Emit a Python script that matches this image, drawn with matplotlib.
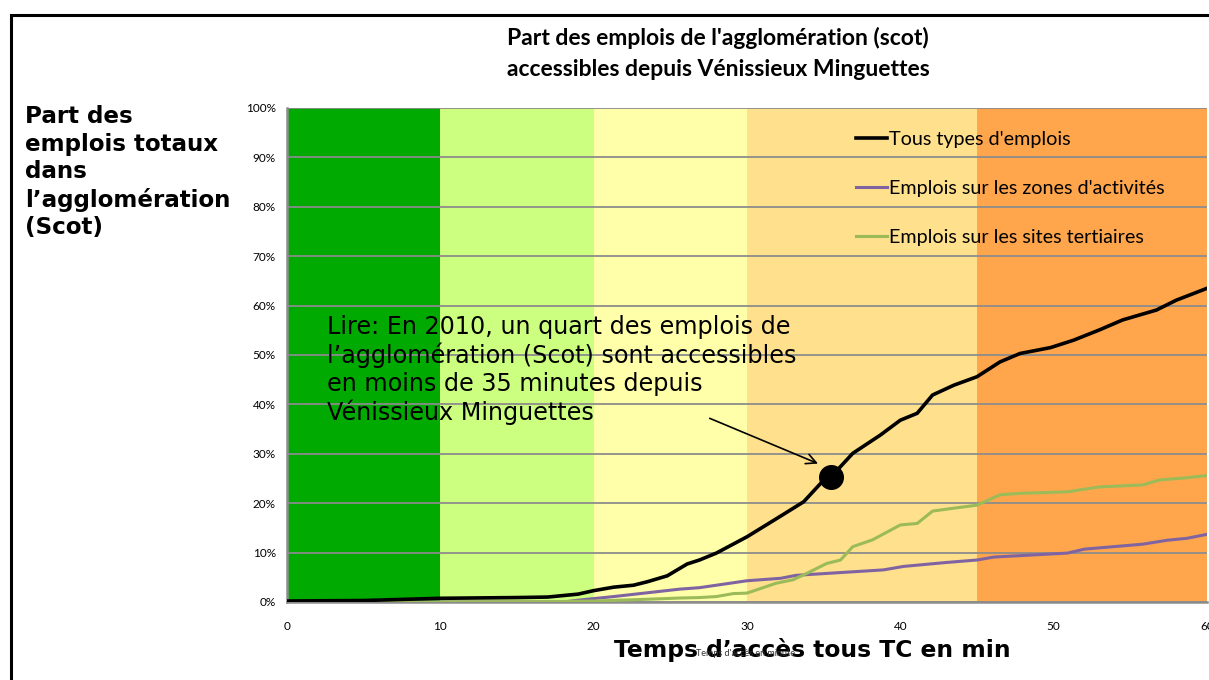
import matplotlib
matplotlib.use("Agg")
import matplotlib.pyplot as plt
from matplotlib.patches import Rectangle

# ---- data ----
t_tous = [0, 5, 10, 15, 17, 19, 20, 21.3, 22.6, 23.5, 24.8, 26.1, 26.9, 28, 30, 32.2, 33.7, 34.8,
          35.5, 36.9, 38.7, 40, 41.1, 42.1, 43.5, 45, 46.5, 47.8, 49.8, 51.3, 53, 54.5, 56.7, 58, 60]
v_tous = [0.2, 0.3, 0.75, 0.9, 1.0, 1.6, 2.3, 3.0, 3.4, 4.1, 5.3, 7.7, 8.5, 9.9, 13.2, 17.4, 20.3, 24.0,
          25.4, 30.1, 33.8, 36.8, 38.2, 41.9, 43.9, 45.6, 48.6, 50.3, 51.5, 53.0, 55.1, 57.1, 59.1, 61.1, 63.5]

t_zones = [0, 10, 18, 19.1, 21.3, 25.6, 26.9, 30, 32.2, 33.2, 38.9, 40.2, 43, 45, 46.1, 50.9, 52,
           55.8, 57.4, 58.7, 60]
v_zones = [0, 0, 0, 0.4, 1.1, 2.6, 2.9, 4.3, 4.8, 5.4, 6.5, 7.2, 8.0, 8.5, 9.1, 9.9, 10.7,
           11.7, 12.5, 12.9, 13.7]

t_tert = [0, 10, 17, 20, 23, 25.6, 26.9, 28, 29.1, 30, 31.9, 33, 33.9, 35.2, 36.1, 36.9, 38.2, 40,
          41.1, 42.1, 43.5, 45, 46.5, 47.8, 50.9, 53, 55.8, 56.9, 58.5, 60]
v_tert = [0, 0, 0.05, 0.2, 0.5, 0.8, 0.9, 1.1, 1.7, 1.8, 3.8, 4.5, 5.8, 7.8, 8.5, 11.2, 12.6, 15.6,
          15.9, 18.4, 19.0, 19.6, 21.7, 22.0, 22.3, 23.3, 23.7, 24.7, 25.1, 25.6]

band_edges = [0, 10, 20, 30, 45, 60]
band_colors = ["#00AA00", "#CCFF80", "#FFFFAA", "#FFE08C", "#FFA64D"]

x_ticks = [0, 10, 20, 30, 40, 50, 60]
y_ticks = [0, 10, 20, 30, 40, 50, 60, 70, 80, 90, 100]

labels = ["Tous types d'emplois", "Emplois sur les zones d'activités", "Emplois sur les sites tertiaires"]
colors = ["#000000", "#8064A2", "#9BBB59"]

point_t, point_v = 35.5, 25.4

# ---- figure ----
W, H = 1209, 680
fig = plt.figure(figsize=(W / 100, H / 100), dpi=100)
ax = fig.add_axes([287 / W, 1 - 602 / H, (1207 - 287) / W, (602 - 108) / H])

for i in range(len(band_colors)):
    ax.axvspan(band_edges[i], band_edges[i + 1], color=band_colors[i], lw=0, zorder=0)

ax.set_xlim(0, 60)
ax.set_ylim(0, 100)
ax.set_yticks(y_ticks)
ax.set_yticklabels([f"{v}%" for v in y_ticks])
ax.set_xticks(x_ticks)
ax.grid(axis="y", color="#8C8C8C", lw=1.3, zorder=1)
ax.tick_params(length=0, labelsize=8.5, pad=8)
for lab in ax.get_xticklabels() + ax.get_yticklabels():
    lab.set_family("Lato")
ax.tick_params(axis="x", pad=14)
for s in ["top", "right"]:
    ax.spines[s].set_visible(False)
for s in ["left", "bottom"]:
    ax.spines[s].set_color("#8C8C8C")
    ax.spines[s].set_linewidth(1.8)
    ax.spines[s].set_zorder(2)

l1, = ax.plot(t_zones, v_zones, color=colors[1], lw=2.2, zorder=3)
l2, = ax.plot(t_tert, v_tert, color=colors[2], lw=2.2, zorder=3)
l0, = ax.plot(t_tous, v_tous, color=colors[0], lw=2.6, zorder=4)
ax.plot([point_t], [point_v], "o", color="black", ms=17, zorder=5)

leg = ax.legend([l0, l1, l2], labels, loc="upper left", frameon=False,
                bbox_to_anchor=(856 / W, 1 - 131 / H), bbox_transform=fig.transFigure,
                prop={"family": "Lato", "size": 14.2}, handlelength=1.55, handletextpad=0.1,
                labelspacing=1.62, borderpad=0, borderaxespad=0)

# annotation
ax.annotate("", xy=(34.8, 27.8), xytext=(27.4, 37.4),
            arrowprops=dict(arrowstyle="->", color="black", lw=1.2, mutation_scale=18), zorder=6)
fig.text(327 / W, 1 - 315 / H,
         "Lire: En 2010, un quart des emplois de\nl\u2019agglomération (Scot) sont accessibles\n"
         "en moins de 35 minutes depuis\nVénissieux Minguettes",
         family="DejaVu Sans", fontsize=17.2, va="top", ha="left", linespacing=1.18)

# titles
fig.text(718 / W, 1 - 38 / H, "Part des emplois de l'agglomération (scot)",
         family="Lato", weight="bold", fontsize=16.5, ha="center", va="center")
fig.text(718 / W, 1 - 69 / H, "accessibles depuis Vénissieux Minguettes",
         family="Lato", weight="bold", fontsize=16.5, ha="center", va="center")

fig.text(25 / W, 1 - 105 / H, "Part des\nemplois totaux\ndans\nl\u2019agglomération\n(Scot)",
         family="DejaVu Sans", weight="bold", fontsize=16.6, ha="left", va="top", linespacing=1.25)

fig.text(812 / W, 1 - 650 / H, "Temps d\u2019accès tous TC en min",
         family="DejaVu Sans", weight="bold", fontsize=16.8, ha="center", va="center")
fig.text(745 / W, 1 - 653 / H, "Temps d'accès en minute",
         family="Lato", fontsize=6.5, ha="center", va="center", color="#333333")

# outer frame
fig.patches.append(Rectangle((11 / W, -0.2), 2, 1.2 - 15 / H, transform=fig.transFigure,
                             fill=False, edgecolor="black", lw=2.2))

fig.savefig("out.png", dpi=100)
